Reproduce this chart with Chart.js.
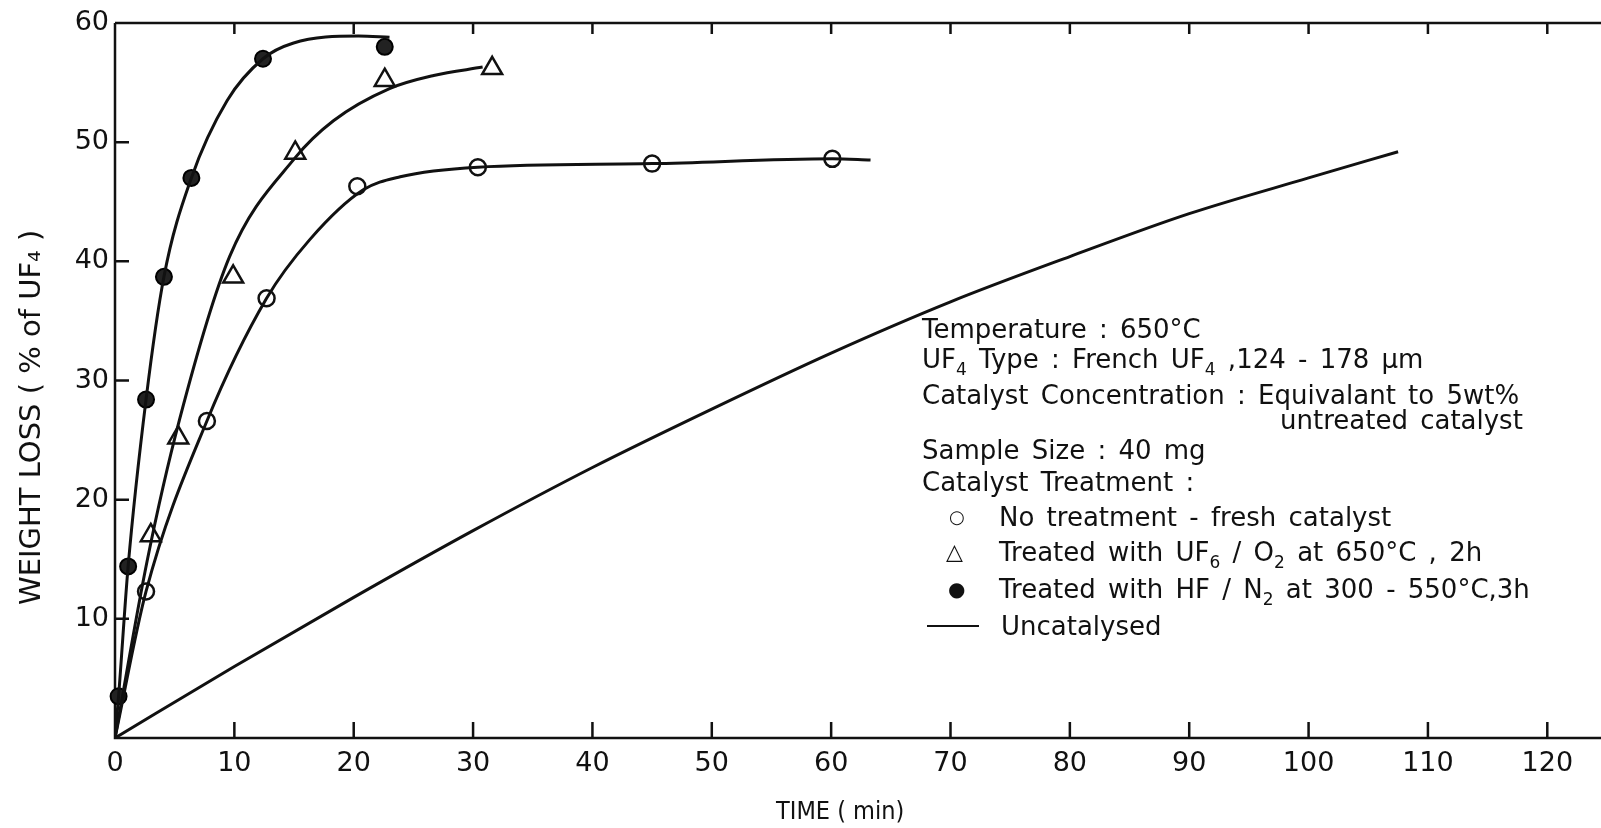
<!DOCTYPE html>
<html>
<head>
<meta charset="utf-8">
<script src="https://cdn.jsdelivr.net/npm/chart.js@4/dist/chart.umd.min.js"></script>
<style>
  html, body { margin: 0; padding: 0; background: #fff; }
  #wrap { position: relative; width: 1601px; height: 828px; }
  .note { position: absolute; font-family: "DejaVu Sans", sans-serif; font-size: 26px; word-spacing: 4px; color: #111; white-space: nowrap; line-height: 28px; }
  .note sub { font-size: 17px; vertical-align: -7px; line-height: 0; }
  .mk { position: absolute; font-family: "DejaVu Sans", sans-serif; color: #111; line-height: 28px; }
  .dash { position: absolute; height: 2px; background: #111; }
</style>
</head>
<body>
<div id="wrap">
  <canvas id="bieuDo" width="1601" height="828"></canvas>

  <div class="note" style="left:922px; top:315px;">Temperature : 650°C</div>
  <div class="note" style="left:922px; top:345px;">UF<sub>4</sub> Type : French UF<sub>4</sub> ,124 - 178 µm</div>
  <div class="note" style="left:922px; top:381px;">Catalyst Concentration : Equivalant to 5wt%</div>
  <div class="note" style="left:1280px; top:406px;">untreated catalyst</div>
  <div class="note" style="left:922px; top:436px;">Sample Size : 40 mg</div>
  <div class="note" style="left:922px; top:468px;">Catalyst Treatment :</div>
  <div class="mk" style="left:949px; top:503px; font-size:18px;">○</div>
  <div class="note" style="left:999px; top:503px;">No treatment - fresh catalyst</div>
  <div class="mk" style="left:946px; top:538px; font-size:22px;">△</div>
  <div class="note" style="left:999px; top:538px;">Treated with UF<sub>6</sub> / O<sub>2</sub> at 650°C , 2h</div>
  <div class="mk" style="left:948px; top:575px; font-size:20px;">●</div>
  <div class="note" style="left:999px; top:575px;">Treated with HF / N<sub>2</sub> at 300 - 550°C,3h</div>
  <div class="dash" style="left:927px; top:625px; width:52px;"></div>
  <div class="note" style="left:1001px; top:612px;">Uncatalysed</div>
</div>

<script>
// Các điểm đo
const noTreatX = [2.6, 7.7, 12.7, 20.3, 30.4, 45.0, 60.1];
const noTreatY = [12.3, 26.6, 36.9, 46.3, 47.9, 48.2, 48.6];
const uf6X = [3.0, 5.3, 9.9, 15.1, 22.6, 31.6];
const uf6Y = [17.0, 25.2, 38.7, 49.1, 55.2, 56.2];
const hfX = [0.3, 1.1, 2.6, 4.1, 6.4, 12.4, 22.6];
const hfY = [3.5, 14.4, 28.4, 38.7, 47.0, 57.0, 58.0];

// Các đường cong vẽ tay
const noTreatCurveX = [0, 2.6, 7.7, 12.7, 16.3, 20.8, 23.9, 30.4, 45.0, 60.1, 63.3];
const noTreatCurveY = [0, 12.3, 26.6, 36.9, 41.8, 46.0, 47.1, 47.9, 48.2, 48.6, 48.5];
const uf6CurveX = [0, 2.7, 5.4, 9.6, 15.1, 18.3, 23.0, 26.7, 30.8];
const uf6CurveY = [0, 14.9, 26.7, 40.4, 48.7, 51.8, 54.5, 55.6, 56.3];
const hfCurveX = [0, 0.3, 1.1, 2.6, 4.1, 6.4, 9.4, 12.4, 14.9, 20.4, 23.0];
const hfCurveY = [0, 3.5, 14.4, 28.4, 38.7, 47.0, 53.5, 57.0, 58.3, 58.9, 58.8];
const uncatX = [0, 10, 20, 30, 40, 50, 60, 70, 80, 90, 100, 107.5];
const uncatY = [0, 6.0, 11.8, 17.4, 22.7, 27.6, 32.3, 36.6, 40.4, 44.0, 47.0, 49.2];

const xTicks = [0, 10, 20, 30, 40, 50, 60, 70, 80, 90, 100, 110, 120];
const yTicks = [0, 10, 20, 30, 40, 50, 60];

function ghep(xs, ys) {
    return xs.map((v, i) => ({ x: v, y: ys[i] }));
}

const mau = '#111';
const phongChu = 'DejaVu Sans';

function duongCong(xs, ys) {
    return {
        data: ghep(xs, ys),
        showLine: true,
        borderColor: mau,
        borderWidth: 3,
        pointRadius: 0,
        cubicInterpolationMode: 'monotone',
        fill: false
    };
}

// Vẽ khung, vạch chia hướng vào trong
const khungPlugin = {
    id: 'khung',
    beforeDatasetsDraw(chart) {
        const { ctx, chartArea: a, scales: { x, y } } = chart;
        ctx.save();
        ctx.strokeStyle = mau;
        ctx.lineWidth = 2.5;
        ctx.beginPath();
        ctx.moveTo(a.left, a.top);
        ctx.lineTo(a.left, a.bottom);
        ctx.lineTo(a.right, a.bottom);
        ctx.moveTo(a.left, a.top);
        ctx.lineTo(a.right, a.top);
        xTicks.forEach(v => {
            if (v === 0) return;
            const px = x.getPixelForValue(v);
            ctx.moveTo(px, a.bottom);
            ctx.lineTo(px, a.bottom - 16);
            ctx.moveTo(px, a.top);
            ctx.lineTo(px, a.top + 11);
        });
        yTicks.forEach(v => {
            if (v === 0 || v === 60) return;
            const py = y.getPixelForValue(v);
            ctx.moveTo(a.left, py);
            ctx.lineTo(a.left + 14, py);
        });
        ctx.stroke();
        ctx.restore();
    }
};

const ctx = document.getElementById('bieuDo').getContext('2d');
const bieuDo = new Chart(ctx, {
    type: 'scatter',
    data: {
        datasets: [
            duongCong(uncatX, uncatY),
            duongCong(noTreatCurveX, noTreatCurveY),
            duongCong(uf6CurveX, uf6CurveY),
            duongCong(hfCurveX, hfCurveY),
            {
                data: ghep(noTreatX, noTreatY),
                pointStyle: 'circle',
                pointRadius: 8,
                backgroundColor: '#fff',
                borderColor: mau,
                borderWidth: 2.5,
                clip: false
            },
            {
                data: ghep(uf6X, uf6Y),
                pointStyle: 'triangle',
                pointRadius: 11.5,
                backgroundColor: '#fff',
                borderColor: mau,
                borderWidth: 2.5,
                clip: false
            },
            {
                data: ghep(hfX, hfY),
                pointStyle: 'circle',
                pointRadius: 8,
                backgroundColor: '#222',
                borderColor: '#000',
                borderWidth: 2,
                clip: false
            }
        ]
    },
    options: {
        responsive: false,
        animation: false,
        layout: { autoPadding: false, padding: { top: 23, right: 0, left: 0, bottom: 0 } },
        plugins: {
            legend: { display: false },
            tooltip: { enabled: false }
        },
        scales: {
            x: {
                type: 'linear',
                min: 0,
                max: 124.5,
                border: { display: false },
                grid: { display: false, drawTicks: false },
                afterBuildTicks(s) { s.ticks = xTicks.map(v => ({ value: v })); },
                afterFit(s) {
                    s.height = 90;
                    s.paddingLeft = 0;
                    s.paddingRight = 0;
                },
                ticks: { color: mau, padding: 10, font: { family: phongChu, size: 27 } },
                title: {
                    display: true,
                    // khoảng trắng cuối để lệch chữ sang trái như hình gốc
                    text: 'TIME ( min)     ',
                    color: mau,
                    padding: { top: 0, bottom: 1 },
                    font: { family: '"DejaVu Sans Condensed", "DejaVu Sans"', size: 25 }
                }
            },
            y: {
                min: 0,
                max: 60,
                border: { display: false },
                grid: { display: false, drawTicks: false },
                afterBuildTicks(s) { s.ticks = yTicks.map(v => ({ value: v })); },
                afterFit(s) { s.width = 115; },
                ticks: {
                    color: mau,
                    padding: 6,
                    font: { family: phongChu, size: 27 },
                    callback: v => (v === 0 ? '' : v)
                },
                title: {
                    display: true,
                    // khoảng trắng cuối để đẩy chữ xuống giống hình gốc
                    text: 'WEIGHT LOSS ( % of UF₄ )        ',
                    color: mau,
                    padding: { top: 15, bottom: 0 },
                    font: { family: phongChu, size: 29 }
                }
            }
        }
    },
    plugins: [khungPlugin]
});
</script>
</body>
</html>
